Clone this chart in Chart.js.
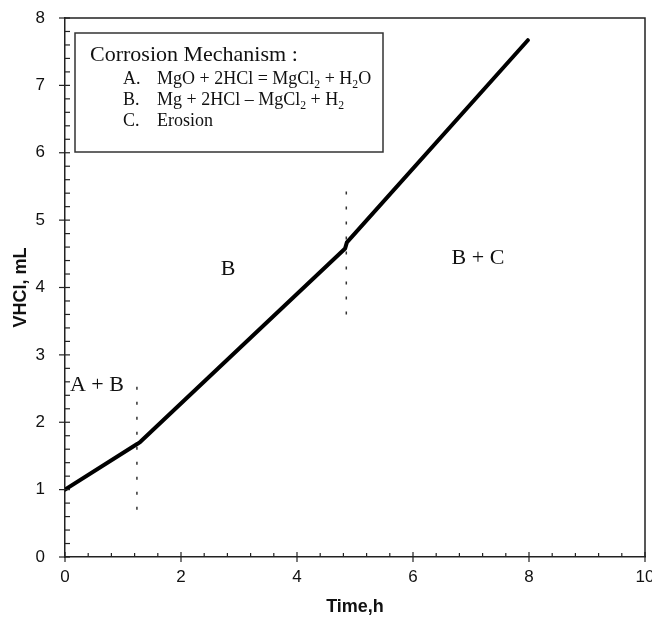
<!DOCTYPE html>
<html><head><meta charset="utf-8">
<script src="https://cdn.jsdelivr.net/npm/chart.js@4"></script>
<style>html,body{margin:0;padding:0;background:#fff}#wrap{width:652px;height:622px}</style>
</head><body><div id="wrap"><canvas id="c" width="652" height="622"></canvas></div>
<script>
// ---- data ----
const timeH      = [0, 1.25, 1.30, 4.83, 4.86, 7.98];
const volumeHCl  = [1.00, 1.68, 1.71, 4.58, 4.67, 7.67];
const boundary1Time = [1.24, 1.24];
const boundary1Vol  = [0.70, 2.62];
const boundary2Time = [4.85, 4.85];
const boundary2Vol  = [3.60, 5.58];
const xTicks = [0, 2, 4, 6, 8, 10];
const yTicks = [0, 1, 2, 3, 4, 5, 6, 7, 8];
const regionLabels = ['A + B', 'B', 'B + C'];
const regionX = [0.55, 2.81, 7.12];
const regionY = [2.55, 4.27, 4.44];
const legendTitle = 'Corrosion Mechanism :';
const mechanismKeys = ['A.', 'B.', 'C.'];
const mechanismTexts = ['MgO + 2HCl = MgCl_2 + H_2O', 'Mg + 2HCl \u2013 MgCl_2 + H_2', 'Erosion'];

const toPts = (xs, ys) => xs.map((x, i) => ({x, y: ys[i]}));
const SERIF = '"Liberation Serif", "Times New Roman", serif';
const SANS = '"Liberation Sans", Arial, sans-serif';

function drawRich(ctx, str, x, y, size) {
  const parts = str.split(/(_\d)/).filter(s => s.length);
  let cx = x;
  for (const p of parts) {
    if (p[0] === '_') {
      ctx.font = (size * 0.65) + 'px ' + SERIF;
      ctx.fillText(p.slice(1), cx, y + size * 0.22);
      cx += ctx.measureText(p.slice(1)).width;
    } else {
      ctx.font = size + 'px ' + SERIF;
      ctx.fillText(p, cx, y);
      cx += ctx.measureText(p).width;
    }
  }
}

const decor = {
  id: 'decor',
  afterDatasetsDraw(chart) {
    const {ctx, chartArea: a, scales: {x, y}} = chart;
    ctx.save();
    ctx.strokeStyle = '#222';
    ctx.lineWidth = 1.5;
    // frame top & right
    ctx.beginPath();
    ctx.moveTo(a.left, a.top); ctx.lineTo(a.right, a.top); ctx.lineTo(a.right, a.bottom);
    ctx.stroke();
    ctx.lineWidth = 1.2;
    // x ticks
    for (let i = 0; i <= 25; i++) {
      const px = x.getPixelForValue(i * 0.4);
      ctx.beginPath();
      if (i % 5 === 0) { ctx.moveTo(px, a.bottom - 5); ctx.lineTo(px, a.bottom + 5); }
      else { ctx.moveTo(px, a.bottom); ctx.lineTo(px, a.bottom - 4); }
      ctx.stroke();
    }
    // y ticks
    for (let i = 0; i <= 40; i++) {
      const py = y.getPixelForValue(i * 0.2);
      ctx.beginPath();
      if (i % 5 === 0) { ctx.moveTo(a.left - 6, py); ctx.lineTo(a.left + 5, py); }
      else { ctx.moveTo(a.left, py); ctx.lineTo(a.left + 5, py); }
      ctx.stroke();
    }
    // region labels
    ctx.fillStyle = '#111';
    ctx.font = '22px ' + SERIF;
    ctx.textAlign = 'center';
    ctx.textBaseline = 'middle';
    regionLabels.forEach((t, i) => ctx.fillText(t, x.getPixelForValue(regionX[i]), y.getPixelForValue(regionY[i])));
    // legend box
    const bx = a.left + 10, by = a.top + 15, bw = 308, bh = 119;
    ctx.fillStyle = '#fff';
    ctx.fillRect(bx, by, bw, bh);
    ctx.strokeStyle = '#333';
    ctx.lineWidth = 1.5;
    ctx.strokeRect(bx, by, bw, bh);
    ctx.fillStyle = '#111';
    ctx.textAlign = 'left';
    ctx.textBaseline = 'alphabetic';
    ctx.font = '22px ' + SERIF;
    ctx.fillText(legendTitle, bx + 15, by + 28);
    mechanismKeys.forEach((k, i) => {
      const ry = by + 51 + i * 21;
      ctx.font = '18px ' + SERIF;
      ctx.fillText(k, bx + 48, ry);
      drawRich(ctx, mechanismTexts[i], bx + 82, ry, 18);
    });
    ctx.restore();
  }
};

new Chart(document.getElementById('c'), {
  type: 'scatter',
  data: {
    datasets: [
      { data: toPts(timeH, volumeHCl), showLine: true, borderColor: '#000', borderWidth: 4,
        pointRadius: 0, borderCapStyle: 'round', borderJoinStyle: 'round', tension: 0 },
      { data: toPts(boundary1Time, boundary1Vol), showLine: true, borderColor: '#333', borderWidth: 1.5,
        borderDash: [3, 12], pointRadius: 0 },
      { data: toPts(boundary2Time, boundary2Vol), showLine: true, borderColor: '#333', borderWidth: 1.5,
        borderDash: [3, 12], pointRadius: 0 }
    ]
  },
  options: {
    responsive: false,
    animation: false,
    layout: { padding: { top: 18, right: 7, left: 0, bottom: 0 } },
    plugins: { legend: { display: false }, tooltip: { enabled: false } },
    scales: {
      x: {
        type: 'linear', min: 0, max: 10,
        afterBuildTicks: s => { s.ticks = xTicks.map(v => ({value: v})); },
        afterFit: s => { s.height = 65; s.paddingRight = 0; s.paddingLeft = 0; },
        ticks: { font: { size: 17, family: SANS }, color: '#111', padding: 10, maxRotation: 0 },
        grid: { display: false, drawTicks: false },
        border: { display: true, color: '#222', width: 1.5 },
        title: { display: true, text: 'Time,h', font: { size: 18, weight: 'bold', family: SANS }, color: '#111', padding: { top: 6 } }
      },
      y: {
        type: 'linear', min: 0, max: 8,
        afterBuildTicks: s => { s.ticks = yTicks.map(v => ({value: v})); },
        afterFit: s => { s.width = 65; s.paddingTop = 0; s.paddingBottom = 0; },
        ticks: { font: { size: 17, family: SANS }, color: '#111', padding: 20 },
        grid: { display: false, drawTicks: false },
        border: { display: true, color: '#222', width: 1.5 },
        title: { display: true, text: 'VHCl, mL', font: { size: 18, weight: 'bold', family: SANS }, color: '#111', padding: { top: 10, bottom: 0 } }
      }
    }
  },
  plugins: [decor]
});
</script>
</body></html>
